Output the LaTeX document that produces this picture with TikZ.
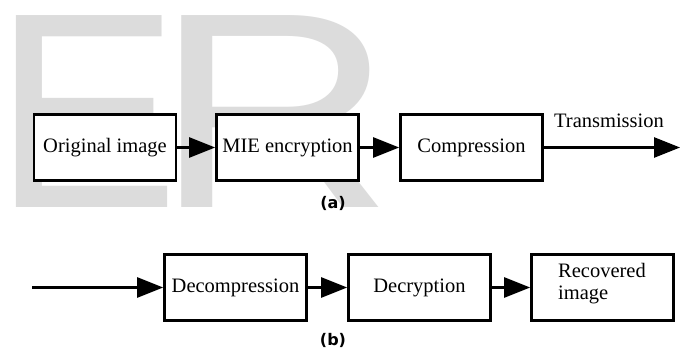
\documentclass[tikz,border=0pt]{standalone}
\usepackage{fontspec}
\setmainfont{Liberation Serif}
\newfontfamily\marksans{Liberation Sans}
\newfontfamily\capfont{DejaVu Sans}
\usetikzlibrary{arrows.meta}
\definecolor{wmgray}{HTML}{DCDCDC}
\tikzset{
  stage/.style={draw=black, fill=white, line width=2.6pt, minimum width=142pt,
    minimum height=66pt, inner sep=0pt, font=\fontsize{20.5}{22}\selectfont},
  flow/.style={line width=2.6pt, -{Triangle[length=26pt,width=20pt]}},
  caption/.style={font=\capfont\bfseries\fontsize{16}{18}\selectfont, inner sep=0pt},
  bigletter/.style={anchor=base west, inner sep=0pt, text=wmgray,
    font=\marksans\fontsize{279}{279}\selectfont}
}
\begin{document}
\begin{tikzpicture}[x=1pt,y=-1pt]
\useasboundingbox (0,0) rectangle (682,353);
\fill[white] (0,0) rectangle (682,353);
% large light letters in the background
\node[bigletter] (wmE) at (-7,207) {E};
\node[bigletter] (wmR) at (154,207) {\scalebox{1.19}[1]{R}};

% (a) transmitter chain
\node[stage] (orig) at (105,147.5) {Original image};
\node[stage] (enc)  at (287.5,147.5) {MIE encryption};
\node[stage] (comp) at (471.5,147.5) {Compression};
\coordinate (txend) at (680,147.5);
\draw[flow] (orig) -- (enc);
\draw[flow] (enc) -- (comp);
\draw[flow] (comp) -- (txend);
\node[anchor=base, inner sep=0pt, font=\fontsize{20.5}{22}\selectfont] (tx) at (609,127) {Transmission};
\node[caption] (capa) at (333,203) {(a)};

% (b) receiver chain
\coordinate (rxstart) at (32,287.5);
\node[stage] (decomp) at (235.5,287.5) {Decompression};
\node[stage] (dec)    at (419.5,287.5) {Decryption};
\node[stage] (rec)    at (602.5,287.5) {};
\node[align=left, inner sep=0pt, font=\fontsize{20.5}{22}\selectfont] (rectext) at (602,284) {Recovered\\image};
\draw[flow] (rxstart) -- (decomp);
\draw[flow] (decomp) -- (dec);
\draw[flow] (dec) -- (rec);
\node[caption] (capb) at (333,340) {(b)};
\end{tikzpicture}
\end{document}
